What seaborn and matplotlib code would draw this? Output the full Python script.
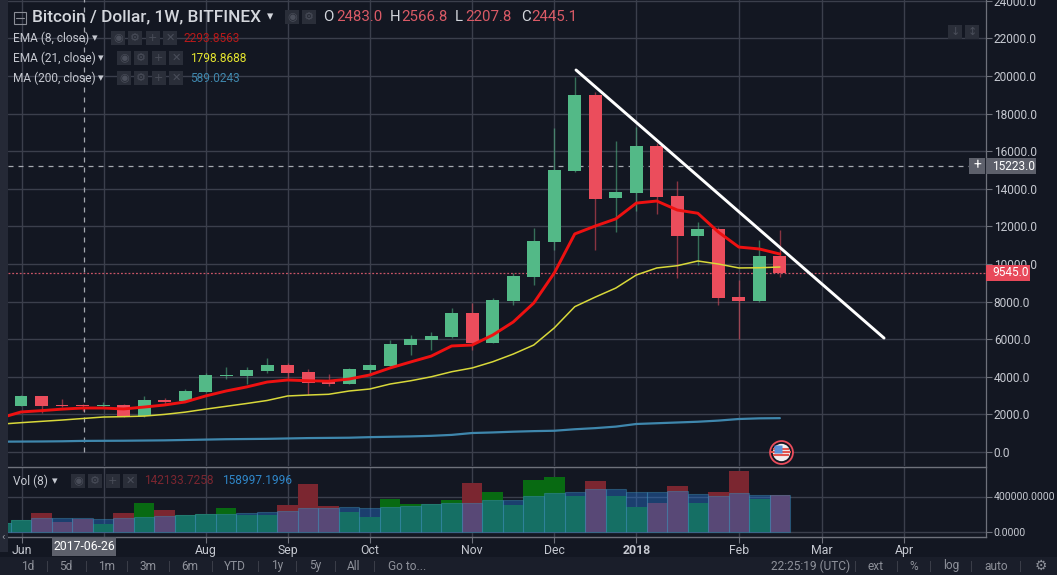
import matplotlib
matplotlib.use("Agg")
import matplotlib.pyplot as plt
import numpy as np
import pandas as pd
import seaborn as sns

BG = "#131722"
GRID = "#3b3f4c"
SEP = "#6e717b"
TXT = "#c5c8d0"
UP = "#53b987"
DOWN = "#eb4d5c"

weeks = list(range(38))
opens = [2447, 2979, 2520, 2483, 2445, 2480, 1930, 2760, 2710, 3210, 4040, 4040, 4310, 4630,
         4255, 3760, 3617, 4360, 4575, 5690, 5960, 6117, 7394, 5800, 8030, 9310, 11170, 14950,
         18990, 13510, 13780, 16280, 13620, 11490, 11860, 8245, 8030, 10425]
closes = [2979, 2447, 2450, 2445, 2500, 1930, 2760, 2680, 3245, 4096, 4096, 4360, 4630, 4200,
          3670, 3617, 4415, 4630, 5745, 6010, 6170, 7394, 5800, 8085, 9360, 11220, 15000, 18990,
          13460, 13830, 16280, 13560, 11490, 11860, 8190, 8030, 10425, 9520]
highs = [3032, 2979, 2830, 2566, 2660, 2550, 2980, 2870, 3350, 4200, 4520, 4520, 5000, 4730,
         4415, 4150, 4460, 4680, 5960, 6220, 6380, 7660, 7925, 8190, 9520, 11900, 17230, 19950,
         19150, 16540, 17290, 16440, 14415, 12230, 11970, 9150, 11280, 11810]
lows = [2447, 2090, 2380, 2207, 2400, 1880, 1880, 2500, 2650, 3200, 3900, 3630, 4200, 3940,
        3030, 3510, 3600, 4096, 4500, 5160, 5425, 6060, 5425, 5800, 7820, 8880, 10740, 14900,
        10740, 11700, 12820, 12660, 9255, 9950, 7820, 6010, 8000, 9310]

line_weeks = list(range(-1, 38))
ema8 = [1810, 2130, 2200, 2280, 2340, 2340, 2290, 2390, 2500, 2660, 2980, 3245, 3460, 3720, 3830,
        3790, 3770, 3880, 4096, 4470, 4790, 5100, 5640, 5690, 6220, 6915, 7925, 9520, 11600,
        12020, 12400, 13240, 13350, 12870, 12700, 11700, 10900, 10800, 10530]
ema21 = [1480, 1560, 1630, 1700, 1780, 1860, 1880, 1910, 2000, 2120, 2280, 2430, 2580, 2740, 2980,
         3030, 3070, 3245, 3350, 3617, 3790, 4000, 4270, 4470, 4800, 5210, 5690, 6600, 7730,
         8240, 8720, 9415, 9790, 9910, 10160, 10000, 9790, 9800, 9840]
ma200 = [550, 555, 560, 570, 590, 595, 600, 610, 620, 640, 660, 680, 690, 700, 720,
         740, 750, 760, 790, 810, 830, 860, 910, 1010, 1040, 1080, 1110, 1130, 1210,
         1270, 1350, 1490, 1530, 1570, 1610, 1670, 1755, 1790, 1800]

trend_weeks = [27.06, 42.08]
trend_prices = [20320, 6060]

vol_weeks = list(range(-1, 38))
vol_up = [1, 1, 0, 0, 0, 1, 0, 1, 0, 1, 1, 1, 1, 1, 0, 0, 0, 1, 1, 1, 1, 1, 1, 0, 1, 1, 1, 1, 1,
          0, 1, 1, 0, 0, 1, 0, 0, 1, 0]
volume = [103700, 140800, 218500, 114800, 148200, 85200, 218500, 329700, 244500, 196300, 203700,
          274100, 188900, 196300, 307400, 540800, 288900, 225900, 174100, 374100, 314800, 318500,
          363000, 555600, 451900, 307400, 585200, 618500, 407400, 574100, 407400, 285200, 329600,
          518500, 329600, 451900, 685200, 374100, 418500]
vol_ma = [103700, 140800, 155600, 163000, 155600, 148200, 163000, 174100, 185200, 192600, 200000,
          207400, 214800, 229600, 240700, 274100, 274100, 285200, 274100, 285200, 292600, 318500,
          329600, 329600, 355600, 359300, 407400, 440800, 451900, 485200, 485200, 451900, 448200,
          463000, 429600, 407400, 440800, 418500, 418500]

y_ticks = list(range(0, 24001, 2000))
month_ticks = [0.05, 4.05, 9, 13, 17, 22, 26, 30, 35, 39.05, 43.05]
month_labels = ["Jun", "", "Aug", "Sep", "Oct", "Nov", "Dec", "2018", "Feb", "Mar", "Apr"]
range_labels = ["1d", "5d", "1m", "3m", "6m", "YTD", "1y", "5y", "All", "Go to..."]
range_px = [28, 66, 107, 148, 190, 235, 277, 315, 354, 407]
range_seps = [47, 86, 127, 169, 212, 258, 296, 335, 374]
right_labels = ["ext", "%", "log", "auto"]
right_px = [876, 914, 951, 996]
right_seps = [855, 897, 930, 971, 1020]
ohlc_labels = ["O", "H", "L", "C"]
ohlc_values = ["2483.0", "2566.8", "2207.8", "2445.1"]
ohlc_x = [323, 390, 455, 521]
ohlc_val_x = [336, 401, 465, 531]

sns.set_theme(style="dark")
plt.rcParams["font.family"] = ["Roboto", "DejaVu Sans"]

W, H = 1057, 575
fig = plt.figure(figsize=(W / 100, H / 100), dpi=100, facecolor=BG)


def box(x0, y0, x1, y1):
    return [x0 / W, 1 - y1 / H, (x1 - x0) / W, (y1 - y0) / H]


XL = ((8 - 21) / 20.51, (985.5 - 21) / 20.51)
ax = fig.add_axes(box(8, 0, 985.5, 465.5), facecolor=BG)
axv = fig.add_axes(box(8, 466.5, 985.5, 537), facecolor=BG)

# --- price pane
ax.hlines(9545, *XL, color="#c95566", lw=0.9, ls=(0, (1.5, 1.5)), zorder=2)
ax.hlines(15223, *XL, color="#a5a8b0", lw=0.9, ls=(0, (4, 4)), zorder=2)
ax.vlines(3.05, 0, 24500, color="#a5a8b0", lw=0.9, ls=(0, (4, 4)), zorder=2)

w = np.array(weeks)
o, c, hi, lo = map(np.array, (opens, closes, highs, lows))
colors = [UP if b >= a else DOWN for a, b in zip(o, c)]
ax.vlines(w, lo, hi, colors=colors, lw=1, alpha=0.55, zorder=3)
ax.bar(w, np.maximum(np.abs(c - o), 60), bottom=np.minimum(o, c), width=0.63, color=colors, lw=0, zorder=4)

for vals, col, lw in [(ma200, "#3f87ad", 1.6), (ema21, "#d8d83a", 1.1), (ema8, "#ee1111", 2.1)]:
    sns.lineplot(x=line_weeks, y=vals, color=col, lw=lw, ax=ax, zorder=5, errorbar=None)
sns.lineplot(x=trend_weeks, y=trend_prices, color="#ffffff", lw=2.1, ax=ax, zorder=6, errorbar=None)

ax.set_xlim(*XL)
ax.set_ylim((452 - 465.5) / 0.0188, 452 / 0.0188)
ax.set_yticks(y_ticks)
ax.set_yticklabels([f"{v:.1f}" for v in y_ticks])
ax.set_xticks(month_ticks)
ax.tick_params(axis="x", length=0, labelbottom=False)
ax.tick_params(axis="y", left=False, right=True, labelleft=False, labelright=True, length=4,
               color=SEP, labelcolor=TXT, labelsize=8.6, pad=2, width=0.8)
ax.grid(True, color=GRID, lw=1, zorder=0)
ax.set_axisbelow(True)

# --- volume pane
vf = pd.DataFrame({"week": vol_weeks, "vol": volume,
                   "dir": ["up" if u else "down" for u in vol_up]})
sns.barplot(data=vf, x="week", y="vol", hue="dir", palette={"up": "#086a12", "down": "#7b2630"},
            native_scale=True, width=1, dodge=False, saturation=1, legend=False, ax=axv, zorder=3, lw=0)
sns.barplot(x=vol_weeks, y=vol_ma, color="#2878d8", native_scale=True, width=1, saturation=1,
            alpha=0.42, ax=axv, zorder=4, edgecolor="#3f8fb5", lw=0.8)
axv.set_xlim(*XL)
px = 35.5 / 400000
axv.set_ylim(-(537 - 532) / px, (532 - 466.5) / px)
axv.set_yticks([0, 400000])
axv.set_yticklabels(["0.0000", "400000.0000"])
axv.set_xticks(month_ticks)
axv.set_xticklabels(month_labels)
axv.set_xlabel("")
axv.set_ylabel("")
axv.tick_params(axis="y", left=False, right=True, labelleft=False, labelright=True, length=4,
                color=SEP, labelcolor=TXT, labelsize=7.6, pad=2, width=0.8)
axv.tick_params(axis="x", bottom=True, length=4, color=SEP, labelcolor=TXT, labelsize=8.8, pad=1, width=0.8)
axv.get_xticklabels()[7].set_fontweight("bold")
axv.grid(True, color=GRID, lw=1, zorder=0)
axv.set_axisbelow(True)

for a in (ax, axv):
    for s in a.spines.values():
        s.set_visible(False)
    a.spines["right"].set_visible(True)
    a.spines["right"].set_color(SEP)
    a.spines["right"].set_linewidth(0.9)
for side in ("bottom", "top"):
    axv.spines[side].set_visible(True)
    axv.spines[side].set_color(SEP)
    axv.spines[side].set_linewidth(1)


def T(x, y, s, **k):
    k.setdefault("color", TXT)
    k.setdefault("fontsize", 8.6)
    k.setdefault("va", "center")
    k.setdefault("zorder", 12)
    return fig.text(x / W, 1 - y / H, s, **k)


def R(x0, y0, x1, y1, col, z=10, **k):
    fig.add_artist(plt.Rectangle((x0 / W, 1 - y1 / H), (x1 - x0) / W, (y1 - y0) / H,
                                 transform=fig.transFigure, facecolor=col, lw=0, zorder=z, **k))


GLYPHS = ["◉", "⚙", "+", "✕"]


def icons(x0, y, glyphs=GLYPHS):
    for i, g in enumerate(glyphs):
        R(x0 + i * 17.3, y - 7, x0 + i * 17.3 + 14, y + 7, "#2a2e39", z=1)
        T(x0 + i * 17.3 + 7, y, g, color="#4a4e5a", ha="center", fontsize=8,
          family="DejaVu Sans")


# left strip, bottom toolbar
R(0, 0, 8, 552, "#252936", z=0.5)
R(0, 557, W, 575, "#1a1e2a", z=0.5)
T(1.5, 537, "‹", color="#9a9da6", fontsize=8)

# legend block
fig.add_artist(plt.Rectangle((13.5 / W, 1 - 23.5 / H), 12 / W, 12 / H, transform=fig.transFigure,
                             facecolor="none", edgecolor="#8a8d96", lw=0.8))
fig.add_artist(plt.Line2D([15.5 / W, 23.5 / W], [1 - 17.5 / H] * 2, transform=fig.transFigure,
                          color="#8a8d96", lw=0.8))
T(32, 17, "Bitcoin / Dollar, 1W, BITFINEX", fontsize=12.4, color="#d3d6dc", fontweight="medium")
T(267, 17, "▾", fontsize=9, color="#d3d6dc", ha="left", family="DejaVu Sans")
icons(285, 17, GLYPHS[:2])
for x, vx, lab, val in zip(ohlc_x, ohlc_val_x, ohlc_labels, ohlc_values):
    T(x, 17, lab, fontsize=10.8, color="#d3d6dc")
    T(vx, 17, val, fontsize=10.8, color="#d95a66")

for y, name, arrow_x, ix, vx, val, col in [
    (38, "EMA (8, close)", 92, 111, 184, "2293.8563", "#b81a1a"),
    (58, "EMA (21, close)", 98, 117, 190, "1798.8688", "#e6e62e"),
    (78, "MA (200, close)", 98, 117, 190, "589.0243", "#3f87ad"),
]:
    T(13, y, name, fontsize=8.6)
    T(arrow_x, y, "▾", fontsize=8, family="DejaVu Sans")
    icons(ix, y)
    T(vx, y, val, fontsize=8.6, color=col)

T(13, 481, "Vol (8)", fontsize=8.6)
T(52, 481, "▾", fontsize=8, family="DejaVu Sans")
icons(71, 481)
T(144, 481, "142133.7258", fontsize=8.6, color="#7b2630")
T(222, 481, "158997.1996", fontsize=8.6, color="#2f86c8")

# pane buttons
for x0, g in [(948, "↓"), (965, "↕")]:
    R(x0, 25, x0 + 14, 39, "#2a2e39", z=1)
    T(x0 + 7, 32, g, color="#4a4e5a", ha="center", fontsize=8, family="DejaVu Sans")

# axis tags
R(986, 158, 1036, 174, "#5d606b", z=11)
T(992, 166, "15223.0", color="#ffffff", fontsize=8.6)
R(969, 158, 985, 174, "#5d606b", z=11)
T(977, 165.5, "+", color="#ffffff", ha="center", fontsize=10)
R(986, 265, 1030, 281, "#e8495a", z=11)
T(992, 273, "9545.0", color="#ffffff", fontsize=8.6)
R(52, 537, 116, 556, "#5d606b", z=11)
T(84, 547, "2017-06-26", color="#ffffff", ha="center", fontsize=8.8)

# economic-event flag marker (ring, white disc, stripes, canton)
fx = (780.5 - 21) / 20.51
ax.plot([fx], [0], marker="o", ms=16.5, mfc=BG, mec="#eb4d5c", mew=1.3, zorder=7, clip_on=False)
ax.plot([fx], [0], marker="o", ms=12.5, mfc="#f2eeee", mec="none", zorder=8, clip_on=False)
for dy, ms in [(3.0, 11), (0, 15), (-3.0, 11)]:
    ax.plot([fx], [dy / 0.0188], marker="_", ms=ms, mec="#e2554f", mew=1.5, zorder=9, clip_on=False)
ax.plot([fx - 2.7 / 20.51], [2.6 / 0.0188], marker="s", ms=5.2, mfc="#5a8fd8", mec="none", zorder=10, clip_on=False)

# toolbar
for x, s in zip(range_px, range_labels):
    T(x, 566, s, color="#8e919a", ha="center", fontsize=8.6)
for x in range_seps + right_seps:
    R(x, 561, x + 1, 572, "#3a3d48", z=11)
T(771, 566, "22:25:19 (UTC)", color="#8e919a", ha="left", fontsize=8.6)
for x, s in zip(right_px, right_labels):
    T(x, 566, s, color="#8e919a", ha="center", fontsize=8.6)
T(1041, 566, "⚙", color="#8e919a", ha="center", fontsize=10, family="DejaVu Sans")

fig.savefig("out.png", dpi=100, facecolor=BG)
